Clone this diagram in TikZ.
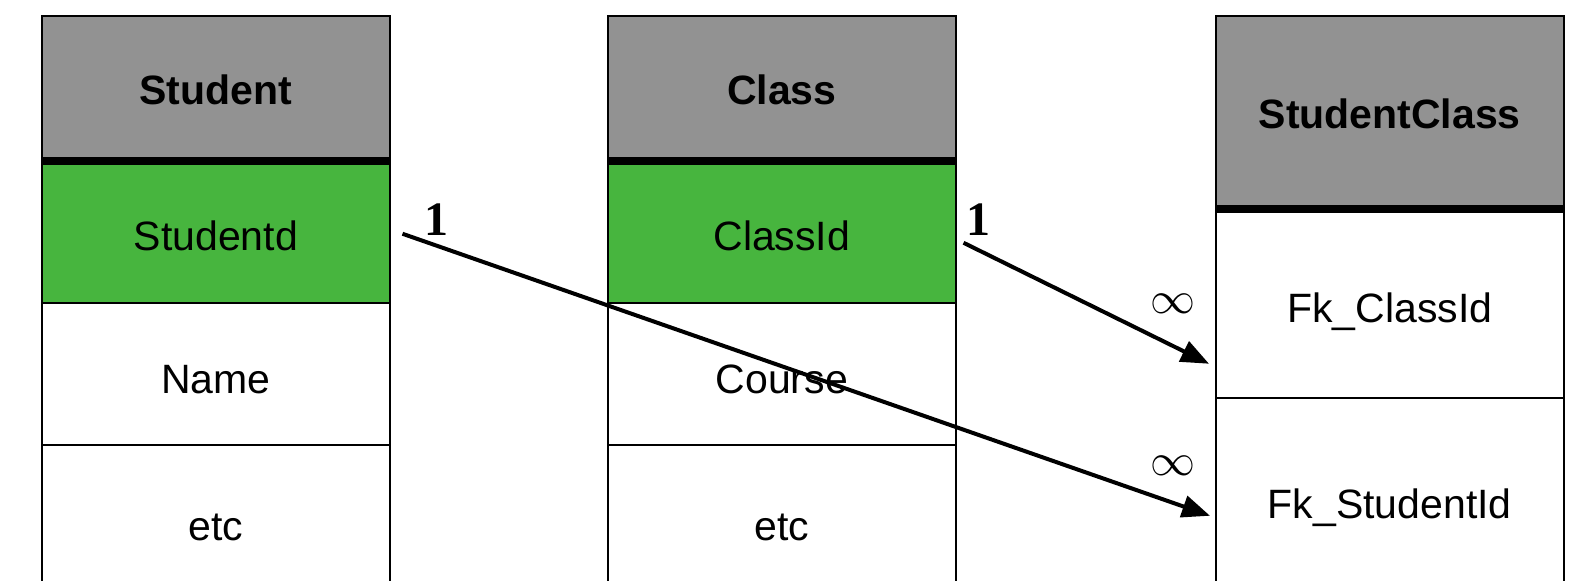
\documentclass[tikz,border=0pt]{standalone}
\usepackage{fontspec}
\setmainfont{Liberation Sans}
\newfontfamily\numfont{Liberation Serif}
\usetikzlibrary{arrows.meta,calc}
\definecolor{hdrgray}{RGB}{146,146,146}
\definecolor{keygreen}{RGB}{71,181,62}
\begin{document}
\begin{tikzpicture}[x=0.5pt,y=-0.5pt,
  cell/.style={draw, line width=0.75pt, minimum width=174pt, inner sep=0pt,
    anchor=north west, text height=19.5pt, text depth=0pt,
    font=\fontsize{20.5pt}{24pt}\selectfont},
  hdr/.style={cell, fill=hdrgray, text height=17pt,
    font=\fontsize{20.5pt}{24pt}\selectfont\bfseries},
  keycell/.style={cell, fill=keygreen},
  sep/.style={line width=4pt},
  rel/.style={line width=2pt, -{Triangle[length=14pt,width=11pt]}},
  one/.style={font=\numfont\bfseries\fontsize{24pt}{24pt}\selectfont, inner sep=0pt},
  many/.style={scale=2.25, inner sep=0pt}]
\useasboundingbox (0,0) rectangle (1577,580);
\clip (0,0) rectangle (1577,580);
% Student
\node[hdr, minimum height=72pt] (sh) at (41,15) {Student};
\node[keycell, minimum height=71.5pt] (sid) at (41,159) {Studentd};
\node[cell, minimum height=71pt] (sname) at (41,302) {Name};
\node[cell, minimum height=76pt] (setc) at (41,444) {etc};
\draw[sep] (sh.south west) -- (sh.south east);
% Class
\node[hdr, minimum height=72pt] (ch) at (607,15) {Class};
\node[keycell, minimum height=71.5pt] (cid) at (607,159) {ClassId};
\node[cell, minimum height=71pt] (ccourse) at (607,302) {Course};
\node[cell, minimum height=76pt] (cetc) at (607,444) {etc};
\draw[sep] (ch.south west) -- (ch.south east);
% StudentClass
\node[hdr, minimum height=96pt] (sch) at (1215,15) {StudentClass};
\node[cell, minimum height=95pt] (fkc) at (1215,207) {Fk\_ClassId};
\node[cell, minimum height=101pt] (fks) at (1215,397) {Fk\_StudentId};
\draw[sep] (sch.south west) -- (sch.south east);
% relations
\draw[rel] ($(sid.east)+(12,2.5)$) -- ($(fks.west)+(-5,17)$);
\draw[rel] ($(cid.east)+(7,11.5)$) -- ($(fkc.west)+(-6,61)$);
\node[one] (l1a) at (436,220) {1};
\node[one] (l1b) at (978,220) {1};
\node[many] (lma) at (1173,304) {$\infty$};
\node[many] (lmb) at (1173,466) {$\infty$};
\end{tikzpicture}
\end{document}
